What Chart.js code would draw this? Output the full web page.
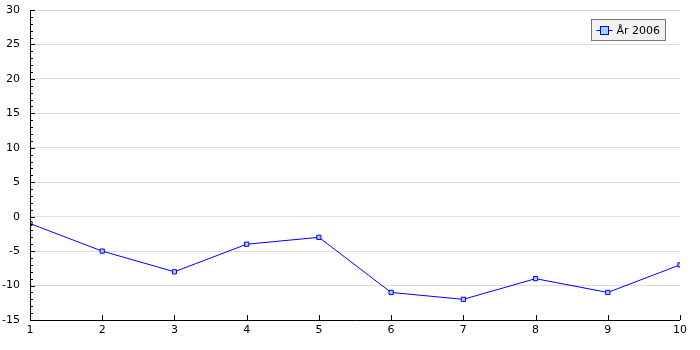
<!DOCTYPE html>
<html>
<head>
    <title>År 2006</title>
    <script src="https://cdn.jsdelivr.net/npm/chart.js"></script>
    <style>
        body { margin: 0; background: #fff; }
        #wrap { width: 700px; height: 350px; }
    </style>
</head>
<body>
    <div id="wrap"><canvas id="lineChart"></canvas></div>
    <script>
        const months = [1, 2, 3, 4, 5, 6, 7, 8, 9, 10];
        const values2006 = [-1, -5, -8, -4, -3, -11, -12, -9, -11, -7];
        const seriesLabel = 'År 2006';
        const yMin = -15, yMax = 30, yMajor = 5;

        const font = { family: 'DejaVu Sans', size: 11 };

        // axis lines, inside tick marks and the boxed legend
        const axisPlugin = {
            id: 'axisPlugin',
            afterDraw(chart) {
                const ctx = chart.ctx;
                const x = chart.scales.x, y = chart.scales.y;
                const a = chart.chartArea;
                ctx.save();
                ctx.strokeStyle = '#000';
                ctx.lineWidth = 1;
                ctx.beginPath();
                ctx.moveTo(Math.round(a.left) + 0.5, a.top);
                ctx.lineTo(Math.round(a.left) + 0.5, Math.round(a.bottom) + 0.5);
                ctx.lineTo(a.right, Math.round(a.bottom) + 0.5);
                for (let v = yMin; v <= yMax; v++) {
                    const py = Math.round(y.getPixelForValue(v)) + 0.5;
                    const len = v % yMajor === 0 ? 5 : 3;
                    ctx.moveTo(Math.round(a.left), py);
                    ctx.lineTo(Math.round(a.left) + len, py);
                }
                months.forEach(m => {
                    const px = Math.round(x.getPixelForValue(m)) + 0.5;
                    ctx.moveTo(px, Math.round(a.bottom));
                    ctx.lineTo(px, Math.round(a.bottom) - 5);
                });
                ctx.stroke();

                // legend
                const lx = 591.5, ly = 19.5, lw = 74, lh = 21;
                ctx.fillStyle = '#f2f2f2';
                ctx.fillRect(lx, ly, lw, lh);
                ctx.strokeStyle = '#777';
                ctx.strokeRect(lx, ly, lw, lh);
                const my = ly + lh / 2;
                ctx.strokeStyle = '#0000ff';
                ctx.beginPath();
                ctx.moveTo(lx + 5, Math.round(my) + 0.5);
                ctx.lineTo(lx + 21, Math.round(my) + 0.5);
                ctx.stroke();
                ctx.fillStyle = '#a8d0ec';
                ctx.fillRect(lx + 9, Math.round(my) - 3.5, 8, 8);
                ctx.strokeRect(lx + 9, Math.round(my) - 3.5, 8, 8);
                ctx.fillStyle = '#000';
                ctx.font = '11px "DejaVu Sans"';
                ctx.textBaseline = 'middle';
                ctx.fillText(chart.data.datasets[0].label, lx + 25, my + 1);
                ctx.restore();
            }
        };

        new Chart(document.getElementById('lineChart'), {
            type: 'line',
            data: {
                labels: months,
                datasets: [{
                    label: seriesLabel,
                    data: values2006,
                    borderColor: '#0000ff',
                    borderWidth: 1,
                    backgroundColor: '#a8d0ec',
                    pointStyle: 'rect',
                    pointRadius: 3,
                    pointBorderWidth: 1,
                    pointBorderColor: '#0000ff',
                    pointBackgroundColor: '#a8d0ec',
                    tension: 0,
                    fill: false
                }]
            },
            options: {
                responsive: true,
                maintainAspectRatio: false,
                animation: false,
                layout: { padding: { top: 10, right: 20, left: 0, bottom: 0 } },
                plugins: { legend: { display: false }, tooltip: { enabled: false } },
                scales: {
                    x: {
                        type: 'linear',
                        min: 1,
                        max: 10,
                        afterFit(s) { s.height = 30; s.paddingLeft = 0; s.paddingRight = 0; },
                        afterBuildTicks(s) { s.ticks = months.map(v => ({ value: v })); },
                        grid: { display: false, drawTicks: false },
                        border: { display: false },
                        ticks: { color: '#000', font: font, padding: 4, maxRotation: 0 }
                    },
                    y: {
                        min: yMin,
                        max: yMax,
                        afterFit(s) { s.width = 30; s.paddingTop = 0; s.paddingBottom = 0; },
                        ticks: {
                            stepSize: yMajor,
                            color: '#000',
                            font: font,
                            padding: 10
                        },
                        grid: {
                            color: ctx => ctx.tick && ctx.tick.value === yMin ? 'rgba(0,0,0,0)' : '#dddddd',
                            lineWidth: 1,
                            drawTicks: false
                        },
                        border: { display: false }
                    }
                }
            },
            plugins: [axisPlugin]
        });
    </script>
</body>
</html>
